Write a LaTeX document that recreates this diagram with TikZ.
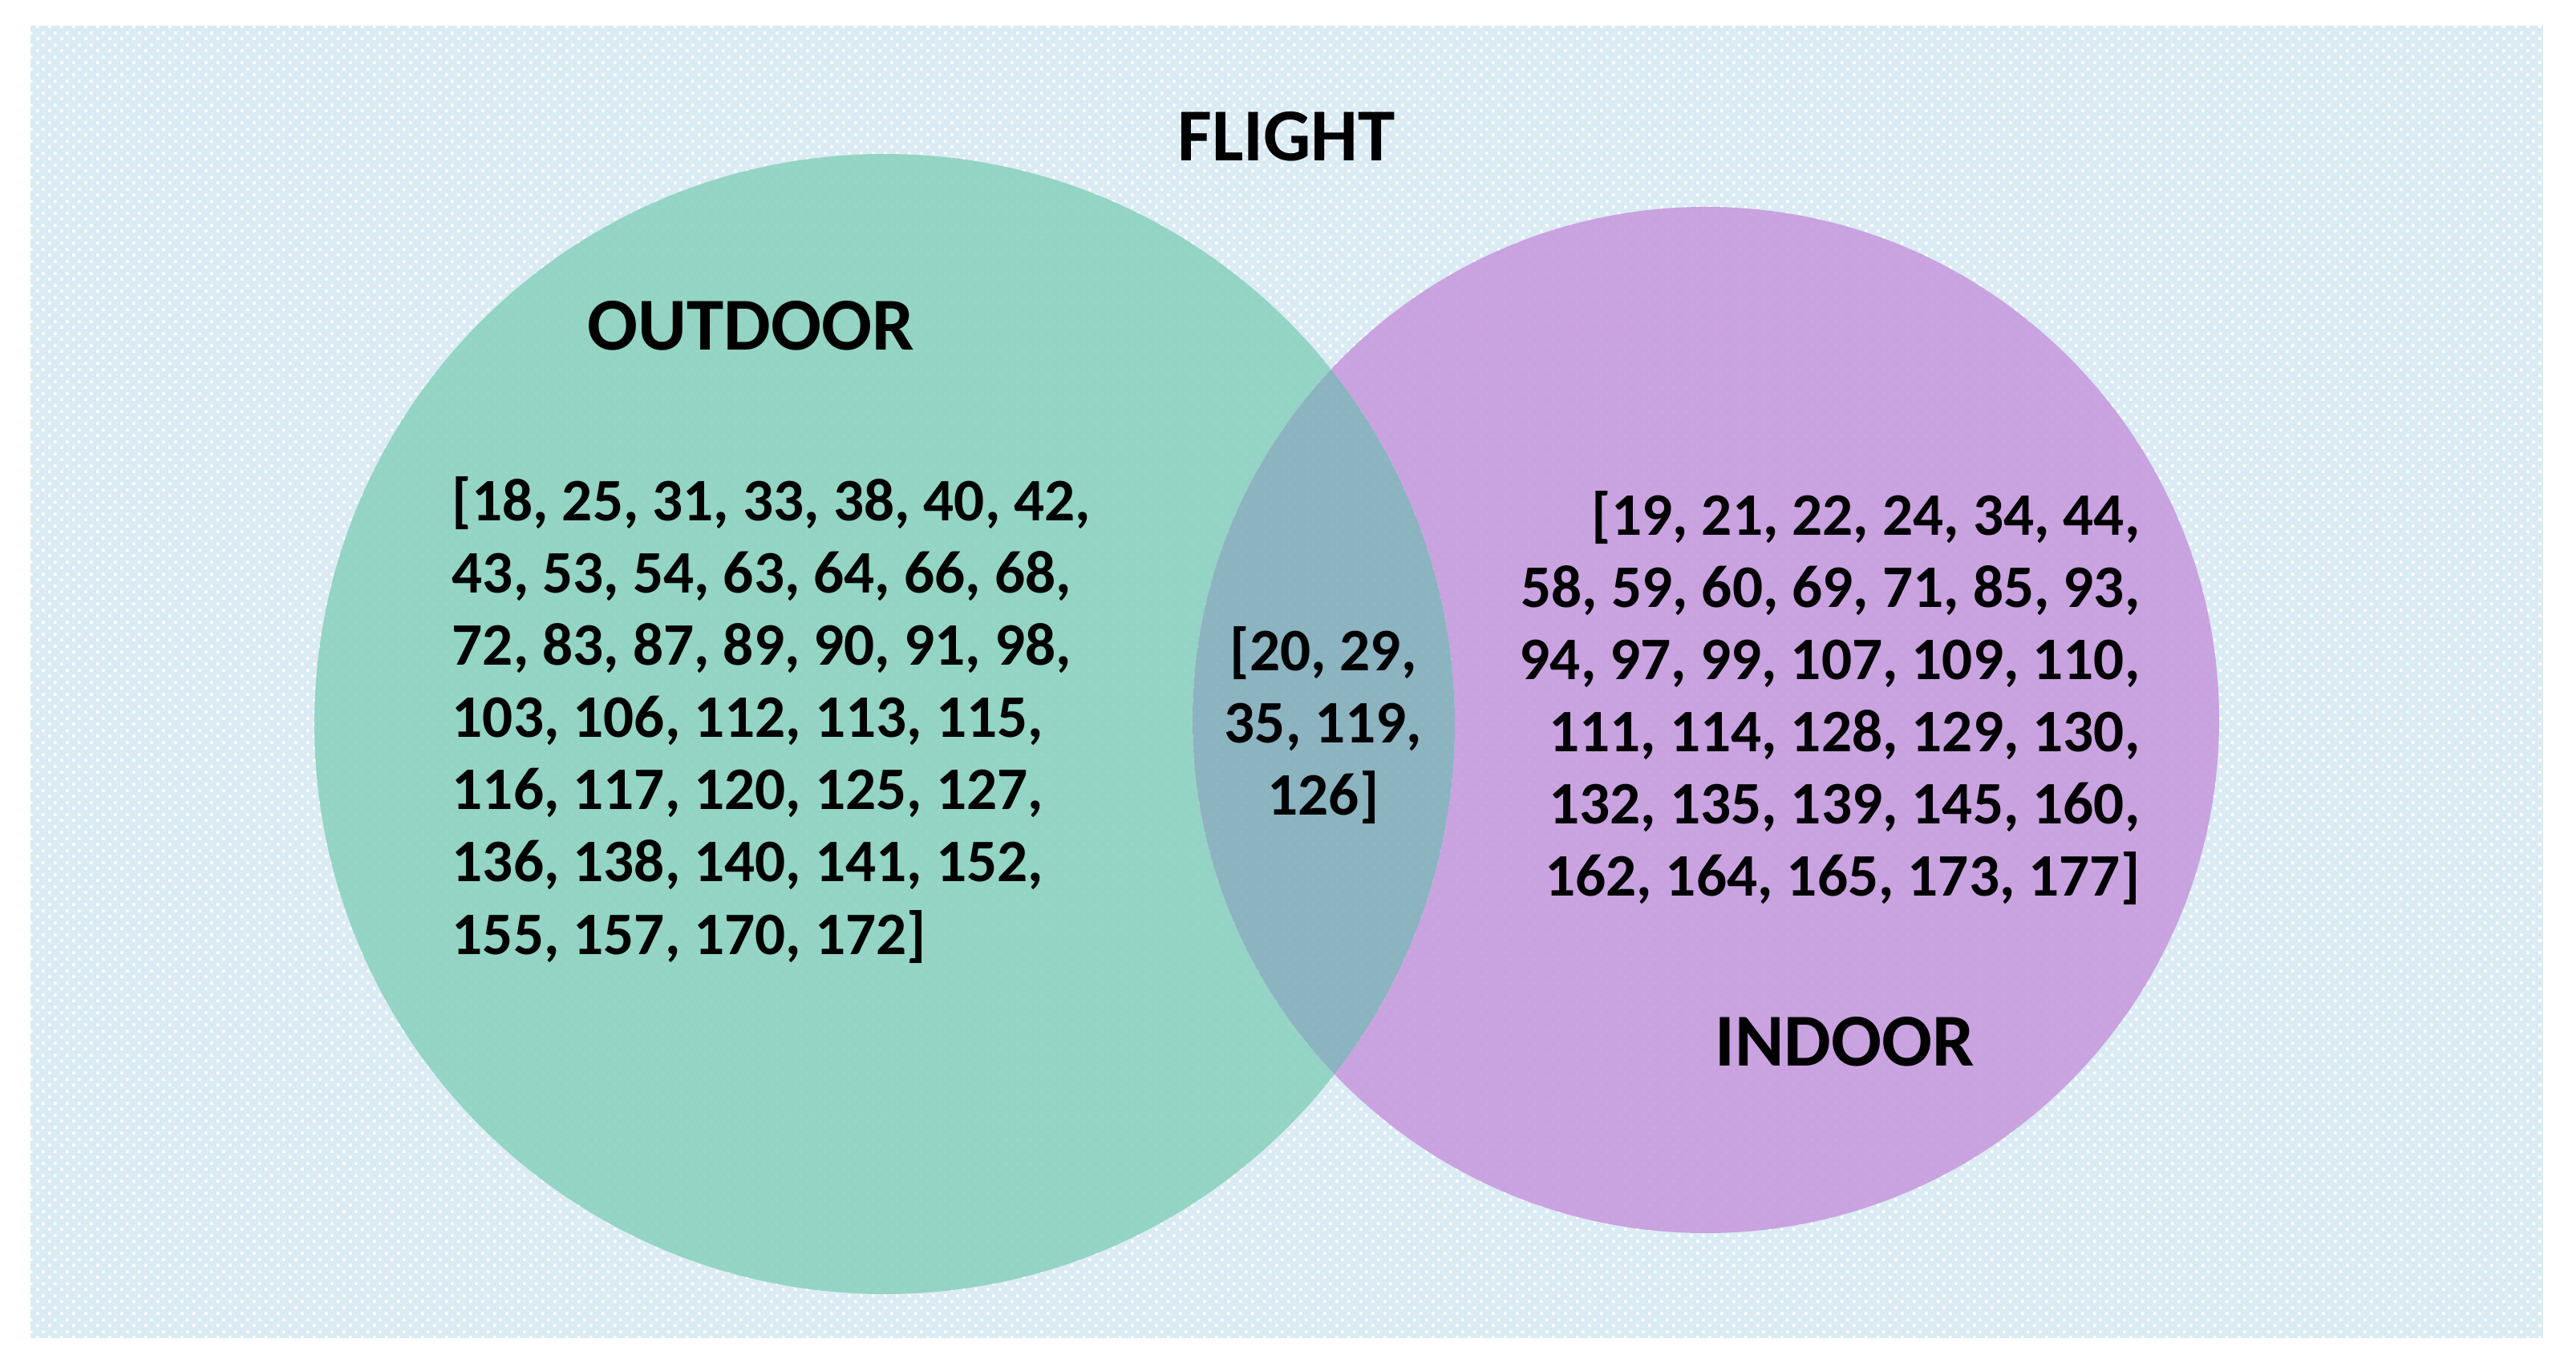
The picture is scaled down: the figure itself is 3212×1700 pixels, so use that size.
\documentclass[tikz,border=0pt]{standalone}
\usepackage{fontspec}
\setmainfont{Carlito}
\usetikzlibrary{patterns}
\pgfdeclarepatternformonly{bgdots}{\pgfpointorigin}{\pgfqpoint{4.27pt}{4.27pt}}{\pgfqpoint{4.27pt}{4.27pt}}{%
  \pgfpathrectangle{\pgfqpoint{0pt}{0pt}}{\pgfqpoint{1.1pt}{1.1pt}}%
  \pgfpathrectangle{\pgfqpoint{2.135pt}{2.135pt}}{\pgfqpoint{1.1pt}{1.1pt}}%
  \pgfusepath{fill}}
\definecolor{bgblue}{RGB}{219,235,244}
\definecolor{outgreen}{RGB}{135,209,188}
\definecolor{inpurple}{RGB}{198,150,221}
\definecolor{bothteal}{RGB}{126,170,183}
\tikzset{
  title/.style={font=\fontsize{26.5pt}{32pt}\selectfont\bfseries, inner sep=0pt, text=black},
  nums/.style={font=\fontsize{21.4pt}{25.6pt}\selectfont\bfseries, inner sep=0pt, text=black},
  dots/.style={pattern=bgdots, pattern color=white},
}
\begin{document}
\begin{tikzpicture}[x=0.01cm,y=-0.01cm]
\useasboundingbox (0,0) rectangle (3212,1700);
\fill[bgblue] (38,32) rectangle (3171,1669);
\fill[dots] (38,32) rectangle (3171,1669);
\coordinate (go) at (1103,903);
\coordinate (po) at (2127,898);
\fill[outgreen, opacity=0.85] (go) circle[radius=711];
\fill[inpurple, opacity=0.85] (po) circle[radius=640];
\begin{scope}
  \clip (go) circle[radius=711];
  \fill[bgblue] (po) circle[radius=640];
  \fill[dots] (po) circle[radius=640];
  \fill[bothteal, opacity=0.85] (po) circle[radius=640];
\end{scope}
\node[title, anchor=base] (flight) at (1604,201) {FLIGHT};
\node[title, anchor=base] (outdoor) at (936,436) {OUTDOOR};
\node[title, anchor=base] (indoor) at (2300,1329) {INDOOR};
\node[nums, anchor=west, align=left] (outlist) at (563,898) {[18, 25, 31, 33, 38, 40, 42,\\43, 53, 54, 63, 64, 66, 68,\\72, 83, 87, 89, 90, 91, 98,\\103, 106, 112, 113, 115,\\116, 117, 120, 125, 127,\\136, 138, 140, 141, 152,\\155, 157, 170, 172]};
\node[nums, anchor=east, align=right] (inlist) at (2669,871) {[19, 21, 22, 24, 34, 44,\\58, 59, 60, 69, 71, 85, 93,\\94, 97, 99, 107, 109, 110,\\111, 114, 128, 129, 130,\\132, 135, 139, 145, 160,\\162, 164, 165, 173, 177]};
\node[nums, anchor=center, align=center] (bothlist) at (1650,905) {[20, 29,\\35, 119,\\126]};
\end{tikzpicture}
\end{document}
